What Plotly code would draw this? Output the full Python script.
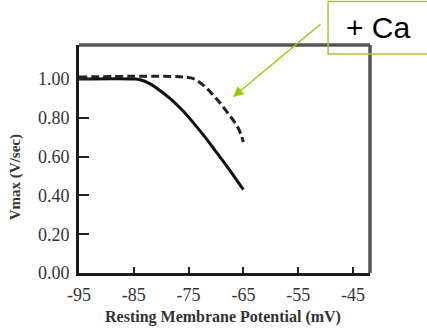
import plotly.graph_objects as go

# Data
solid_x = [-95, -85, -84, -82, -80, -78, -76, -74, -72, -70, -68, -66, -65]
solid_y = [1.00, 1.00, 0.997, 0.975, 0.935, 0.89, 0.835, 0.77, 0.70, 0.625, 0.55, 0.47, 0.43]
dashed_x = [-95, -76, -74, -72, -70, -68, -66, -65]
dashed_y = [1.01, 1.01, 1.00, 0.96, 0.90, 0.83, 0.75, 0.675]
x_ticks = [-95, -85, -75, -65, -55, -45]
y_ticks = [0.0, 0.2, 0.4, 0.6, 0.8, 1.0]
x_title = "Resting Membrane Potential (mV)"
y_title = "Vmax (V/sec)"
label = "+ Ca"

serif = "Liberation Serif, Times New Roman, serif"

fig = go.Figure()
fig.add_trace(go.Scatter(x=solid_x, y=solid_y, mode="lines", line=dict(color="#111111", width=3, shape="spline", smoothing=1.0), showlegend=False))
fig.add_trace(go.Scatter(x=dashed_x, y=dashed_y, mode="lines", line=dict(color="#222222", width=3, dash="8px,4px", shape="spline", smoothing=1.0), showlegend=False))

fig.update_layout(
    width=427, height=329,
    margin=dict(l=79, r=57, t=45, b=56),
    paper_bgcolor="white", plot_bgcolor="white",
    xaxis=dict(range=[-95, -41.9], tickvals=x_ticks, ticktext=[str(v) for v in x_ticks],
               ticks="inside", ticklen=6, tickwidth=1.5, tickcolor="#222",
               showline=True, linecolor="#1a1a1a", linewidth=3, mirror=False,
               showgrid=False, zeroline=False,
               tickfont=dict(family=serif, size=18, color="#333"), ticklabelstandoff=3),
    yaxis=dict(range=[0, 1.175], tickvals=y_ticks, ticktext=[f"{v:.2f}" for v in y_ticks],
               ticks="inside", ticklen=10, tickwidth=1.5, tickcolor="#222",
               showline=True, linecolor="#1a1a1a", linewidth=3, mirror=False,
               showgrid=False, zeroline=False,
               tickfont=dict(family=serif, size=18, color="#333"), ticklabelstandoff=3),
    shapes=[
        dict(type="line", xref="paper", yref="paper", x0=0, x1=1, y0=1, y1=1, line=dict(color="#555", width=3.5)),
        dict(type="line", xref="paper", yref="paper", x0=1, x1=1, y0=0, y1=1, line=dict(color="#555", width=3.5)),
        dict(type="rect", xref="paper", yref="paper", x0=0.856, x1=1.215, y0=0.9605, y1=1.191,
             line=dict(color="#9acd32", width=1.5), fillcolor="rgba(0,0,0,0)"),
    ],
    annotations=[
        dict(text=x_title, xref="paper", yref="paper", x=0.495, y=-0.195, xanchor="center", yanchor="middle",
             showarrow=False, font=dict(family=serif, size=16, color="#333", weight="bold")),
        dict(text=y_title, xref="paper", yref="paper", x=-0.22, y=0.42, xanchor="center", yanchor="middle",
             textangle=-90, showarrow=False, font=dict(family=serif, size=15, color="#333", weight="bold")),
        dict(text=label, xref="paper", yref="paper", x=1.03, y=1.075, xanchor="center", yanchor="middle",
             showarrow=False, font=dict(family="Liberation Sans, Arial, sans-serif", size=30, color="black")),
        dict(text="", x=-66.9, y=0.907, xref="x", yref="y", ax=89, ay=-74, showarrow=True,
             arrowhead=2, arrowsize=1.4, arrowwidth=1.5, arrowcolor="#99cc00", standoff=0),
    ],
)

fig.write_html("out.html")
